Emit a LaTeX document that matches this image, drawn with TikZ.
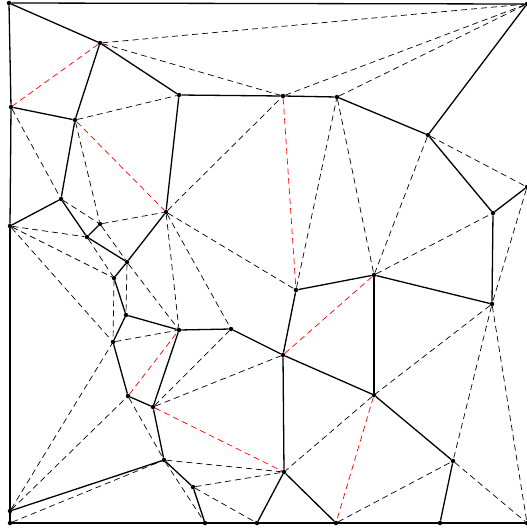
\documentclass[tikz,border=0pt]{standalone}
\begin{document}
\begin{tikzpicture}[x=1pt,y=-1pt,
  pt/.style={circle,fill=black,inner sep=0pt,minimum size=4.5pt},
  solidedge/.style={line width=1.3pt,black},
  dashedge/.style={line width=0.7pt,black,dash pattern=on 6pt off 4pt},
  rededge/.style={line width=0.7pt,red,dash pattern=on 6pt off 4pt}]
\useasboundingbox (0,0) rectangle (527,531);
\fill[white] (0,0) rectangle (527,531);
\node[pt] (A) at (9,3) {};
\node[pt] (B) at (527,4) {};
\node[pt] (C) at (100,43) {};
\node[pt] (D) at (179,95) {};
\node[pt] (E) at (283,96) {};
\node[pt] (F) at (337,97) {};
\node[pt] (G) at (428,135) {};
\node[pt] (H) at (493,213) {};
\node[pt] (I) at (527,187) {};
\node[pt] (J) at (11,107) {};
\node[pt] (K) at (75,120) {};
\node[pt] (L) at (61,199) {};
\node[pt] (M) at (10,226) {};
\node[pt] (N) at (166,212) {};
\node[pt] (O) at (100,224) {};
\node[pt] (P) at (87,237) {};
\node[pt] (Q) at (127,262) {};
\node[pt] (R) at (114,278) {};
\node[pt] (S) at (126,315) {};
\node[pt] (T) at (113,342) {};
\node[pt] (U) at (179,330) {};
\node[pt] (V) at (231,329) {};
\node[pt] (W) at (296,290) {};
\node[pt] (X) at (374,275) {};
\node[pt] (Y) at (492,304) {};
\node[pt] (Z) at (283,355) {};
\node[pt] (a) at (128,396) {};
\node[pt] (b) at (153,407) {};
\node[pt] (c) at (374,395) {};
\node[pt] (d) at (164,460) {};
\node[pt] (e) at (193,487) {};
\node[pt] (f) at (284,472) {};
\node[pt] (g) at (453,461) {};
\node[pt] (h) at (10,511) {};
\node[pt] (i) at (10,523) {};
\node[pt] (j) at (205,523) {};
\node[pt] (k) at (257,523) {};
\node[pt] (l) at (336,523) {};
\node[pt] (m) at (440,523) {};
\node[pt] (n) at (527,523) {};
% dashed black
\foreach \u/\v in {C/B,C/E,E/B,F/B,N/E,K/D,J/L,K/O,L/O,O/N,O/Q,M/P,M/R,P/R,M/T,R/T,Q/S,Q/U,N/U,N/V,N/W,T/U,h/T,h/a,a/d,d/j,i/d,b/V,b/Z,d/f,e/f,e/k,W/F,F/X,G/X,X/H,G/I,I/Y,Y/c,Y/g,Y/n,g/n,c/f,l/g}
  \draw[dashedge] (\u) -- (\v);
% dashed red
\foreach \u/\v in {C/J,K/N,E/W,Z/X,a/U,b/f,c/l}
  \draw[rededge] (\u) -- (\v);
% solid
\foreach \u/\v in {A/B,A/J,J/M,M/h,h/i,i/j,j/k,k/l,l/m,m/n,A/C,C/D,D/E,E/F,F/G,G/B,G/H,H/I,H/Y,Y/X,X/W,X/c,W/Z,Z/V,V/U,Z/c,c/g,g/m,Z/f,f/k,f/l,C/K,J/K,K/L,L/M,L/P,P/O,P/Q,Q/N,N/D,Q/R,R/S,S/U,S/T,T/a,a/b,b/U,b/d,d/h,d/e,e/j}
  \draw[solidedge] (\u) -- (\v);
\end{tikzpicture}
\end{document}
